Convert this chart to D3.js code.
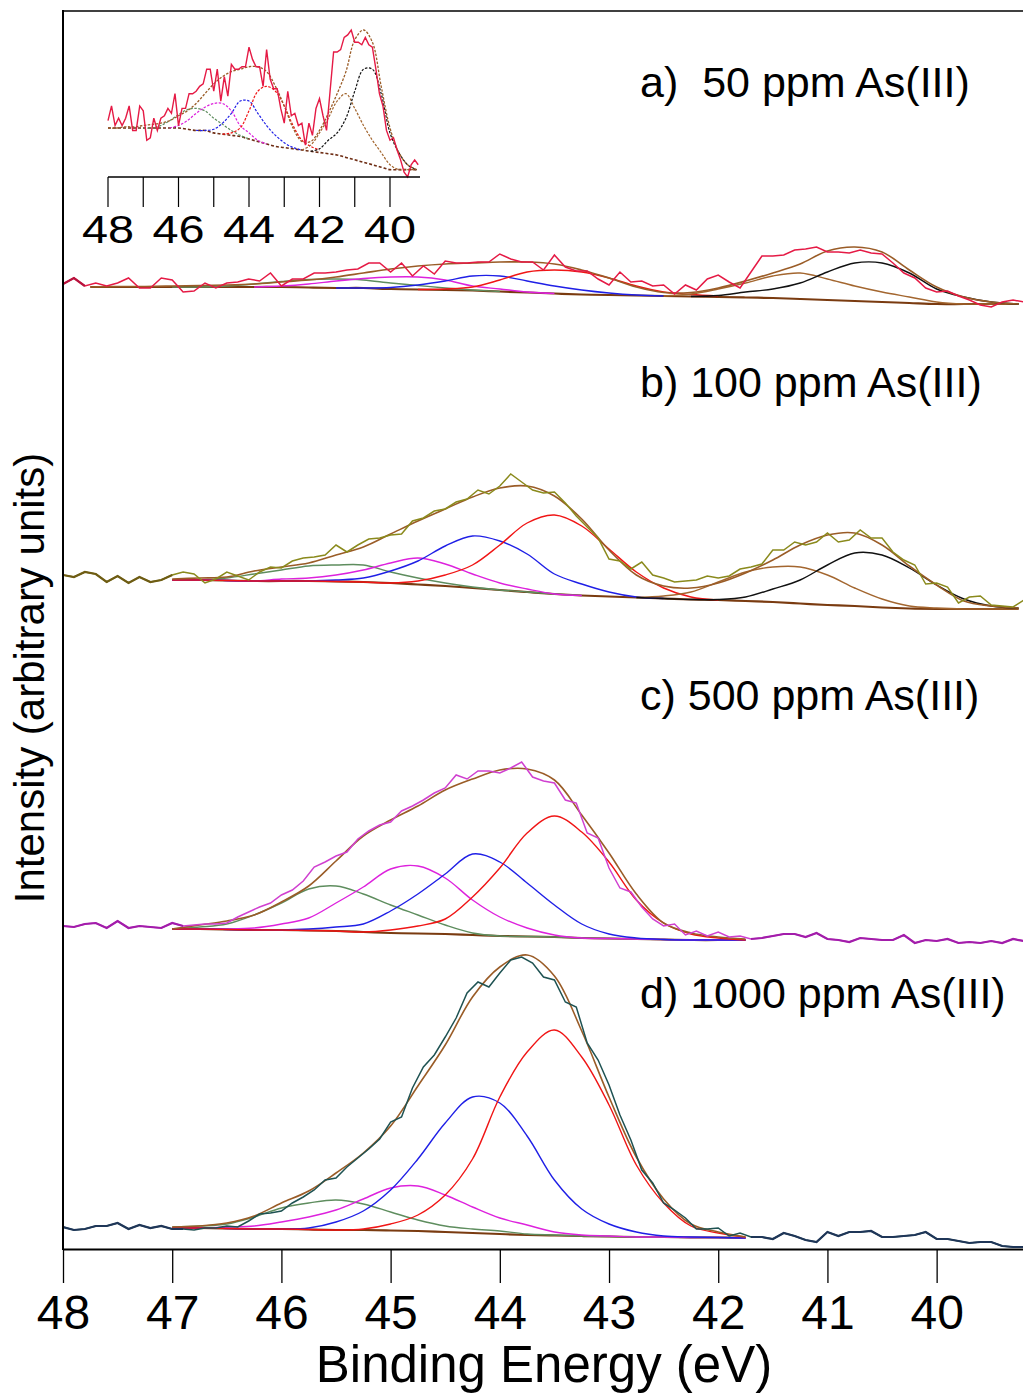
<!DOCTYPE html>
<html>
<head>
<meta charset="utf-8">
<script src="https://cdn.jsdelivr.net/npm/d3@7"></script>
<style>
  body { margin: 0; background: #fff; }
  svg { display: block; }
  text { font-family: "Liberation Sans", Arial, sans-serif; fill: #000; }
</style>
</head>
<body>
<svg id="xps" width="1023" height="1395"></svg>
<script>
// ---- data (intensity in arbitrary units, relative to each spectrum's own level) ----
var xTicks = [48, 47, 46, 45, 44, 43, 42, 41, 40];
var insetLabels = [48, 46, 44, 42, 40];
var panelLabels = ["a)  50 ppm As(III)", "b) 100 ppm As(III)", "c) 500 ppm As(III)", "d) 1000 ppm As(III)"];
var panelOffset = [962, 671, 324, 20];

// measured spectra, 48.0 -> 39.2 eV every 0.1 eV
var aRaw = [3,9,1,4,1,4,9,-1,-1,9, 7,-5,-4,4,-1,4,5,8,6,14, 1,8,8,14,14,15,17,18,24,24,
  15,24,11,21,13,26,24,24,25,25, 33,28,25,25,17,32,20,16,16,8, 2,15,5,6,1,2,-7,2,-3,8,
  12,5,-1,15,31,31,32,37,38,40, 35,35,34,37,34,33,24,14,9,-1, -5,-4,-9,-13,-18,-20,-15,-13,-15];
var bRaw = [3,1,6,4,-4,2,-5,1,-4,-2, 3,6,4,-5,-1,6,2,-2,6,11, 10,17,20,21,23,33,26,33,39,40,
  43,44,57,60,67,69,76,79,88,84, 92,104,96,88,85,86,75,62,51,40, 19,17,9,16,3,0,-4,-3,-2,2,
  0,2,9,11,14,28,28,36,33,36, 45,36,38,48,40,40,26,18,13,-6, -5,-9,-25,-19,-18,-27,-28,-29,-22];
var cRaw = [-1,-2,1,2,-3,4,-3,-1,-2,-3, 2,-1,0,1,1,2,8,13,18,22, 30,35,44,58,63,69,73,86,94,100,
  103,114,119,125,132,137,150,146,154,154, 152,157,163,148,144,142,125,122,92,87, 57,37,33,18,6,-1,1,-10,-6,-11,
  -7,-12,-11,-14,-13,-11,-9,-9,-12,-8, -14,-15,-17,-13,-14,-15,-15,-10,-18,-15, -16,-14,-18,-17,-18,-16,-18,-14,-16];
var dRaw = [2,-1,0,3,3,6,0,4,1,3, 0,0,-1,1,1,3,2,8,15,16, 18,26,32,39,49,51,62,71,80,90,
  107,112,141,162,174,192,211,236,247,242, 256,269,272,266,252,249,227,222,186,169, 144,114,89,59,46,26,19,11,0,0,
  1,-7,-4,-8,-8,-10,-4,-7,-11,-13, -3,-7,-3,-3,-2,-8,-8,-7,-6,-3, -10,-10,-12,-14,-13,-13,-17,-18,-18];

// fitted curves, every 0.25 eV from the start energy given with each
var aBg    = [0,0,0, 0,0,0,0,0,-0.5,-1,-1,-2,-2.5,-3,-3.5,-4.5,-5.5,-6.5,-7.5,-8,-8.5,-9,-9.5,-10,-10.5,-11,-12,-13,-14,-15,-16,-17,-17,-17,-17];
var aEnv   = [0,0.5,0.5, 1,1.5,2,3,5,7,10,14,18,21,23,24,25,25,23,17,9,0,-5.5,-5.5,-1,6,14,23,36,40,35,17,0,-10,-15,-17];
var aGreen = [0,0,1,3,5.5,7.5,8,7,4,1.5,-1,-3,-4.5];
var aMag   = [0,1,3,6,8.5,10,10,7,1,-2,-5,-6.5];
var aBlue  = [-1,-1,-0.5,2,6,11,11,6,1,-3,-6,-8,-9];
var aRed   = [-2.5,-2,0,7,15,17,15,9,1,-5,-7.5,-9];
var aBlack = [-9.5,-8.5,-5,-2,4,15,24,24,14,-2,-10,-15,-17];
var aDoub  = [-9,-7,-2,4,11,14,8,1,-5,-10,-15,-17,-17,-17];

var bBg    = [-2,-2,-2.5,-3,-3,-3,-3.5,-4,-5,-6.5,-8,-10,-12,-14,-16,-17.5,-18.5,-19.5,-20.5,-21.5,-22,-23,-24,-25.5,-27,-28,-29.5,-30.5,-31,-31,-31,-31];
var bEnv   = [-1,0,1,7,11,15,23,31,44,57,69,81,90,92,82,59,28,3,-8,-10,-5,5,18,33,43,45,33,12,-7,-23,-28,-30];
var bGreen = [-2,-2,0,4,8,12,13,13,6,0,-5,-9,-12,-14,-16,-17.5];
var bMag   = [-2,-2,-2.5,-3,-1,0,3,8,15,20,14,4,-5,-11,-16,-17.5];
var bBlue  = [-2,-2,-2.5,-3,-3,-3,-2,0,7,17,32,42,37,24,4,-6,-14,-19,-20.5];
var bRed   = [-2,-2,-2.5,-3,-3,-3,-3.5,-4,-5,-3,3,13,33,55,63,52,29,6,-10,-19,-22];
var bBlack = [-19.5,-20.5,-21.5,-21.5,-19,-11,-2,13,25,23,10,-7,-21,-28,-30];
var bDoub  = [-19.5,-18,-14,-4,6,11,11,3,-10,-21,-28,-30,-31,-31,-31];

var cBg    = [-4,-4,-4.5,-5,-5,-5.5,-6,-7,-8,-8.5,-9,-10,-11,-11.5,-12,-13,-13.5,-14,-14.5,-15,-15,-15];
var cEnv   = [-4,0,4,10,23,39,64,89,105,119,135,146,155,156,145,110,72,31,2,-8,-12,-14];
var cGreen = [-4,-2,1,10,22,36,39,31,20,10,0,-8,-11,-11.5,-12,-13,-13.5,-14,-14.5,-15,-15,-15];
var cMag   = [-4,-4,-4,-3,1,7,22,38,56,59,47,25,8,-3,-10,-13,-13.5,-14,-14.5,-15,-15,-15];
var cBlue  = [-4,-4,-4.5,-5,-5,-4,-2,1,14,31,51,71,63,42,20,1,-9,-13,-14.5,-15,-15,-15];
var cRed   = [-4,-4,-4.5,-5,-5,-5.5,-6,-7,-5,-1,6,28,57,92,109,93,63,25,2,-9,-13,-15];

var dBg    = [1,1,0.5,0,0,-0.5,-1,-1,-1.5,-2,-3,-4,-5,-6,-6.5,-7,-7.5,-8,-8,-8.5,-8.5,-9];
var dEnv   = [2,3,6,13,26,38,56,76,103,143,184,232,262,274,253,198,132,72,30,5,-3,-8];
var dGreen = [2,3,5,12,21,26,29,25,17,9,3,0,-2,-5,-6,-7,-7.5,-8,-8,-8.5,-8.5,-9];
var dMag   = [1,1,2,3,7,12,19,30,41,43,34,22,11,4,-3,-6,-7,-8,-8,-8.5,-8.5,-9];
var dBlue  = [1,1,0.5,0,0,1,7,18,39,70,106,132,126,93,49,20,5,-3,-7,-8,-8.5,-9];
var dRed   = [1,1,0.5,0,0,-0.5,-1,0,5,14,34,70,132,177,199,172,124,64,26,3,-4,-8];

// ---- drawing ----
var col = {
  bg: "#7a3b10", env: "#9a5c27", doub: "#a3662f", green: "#5e8d5e", mag: "#dd22dd",
  blue: "#1f1fe6", red: "#f01515", black: "#111111"
};

var svg = d3.select("#xps");
var x = d3.scaleLinear().domain([48, 39.2]).range([63, 1024]);
var y = d3.scaleLinear().domain([0, 1238]).range([1249, 11]);

var rawE = d3.range(89).map(function(i) { return +(48 - i * 0.1).toFixed(2); });

function series(start, vals) {
  return vals.map(function(v, i) { return [start - i * 0.25, v]; });
}

var panels = [
  { raw: aRaw, rawCol: "#e51a45", edgeCol: "#b8123d", edges: [[48, 47.75]],
    bg: series(47.75, aBg), env: series(47.75, aEnv),
    comps: [[series(47.0, aGreen), col.green], [series(46.25, aMag), col.mag], [series(45.5, aBlue), col.blue],
            [series(44.75, aRed), col.red], [series(42.5, aDoub), col.doub], [series(42.25, aBlack), col.black]],
    ly: 97 },
  { raw: bRaw, rawCol: "#8a8a1c", edgeCol: "#6e5c14", edges: [[48, 47.0]],
    bg: series(47.0, bBg), env: series(47.0, bEnv),
    comps: [[series(47.0, bGreen), col.green], [series(47.0, bMag), col.mag], [series(47.0, bBlue), col.blue],
            [series(47.0, bRed), col.red], [series(42.75, bDoub), col.doub], [series(42.75, bBlack), col.black]],
    ly: 397 },
  { raw: cRaw, rawCol: "#d040d0", edgeCol: "#a21daa", edges: [[48, 46.9], [41.7, 39.2]],
    bg: series(47.0, cBg), env: series(47.0, cEnv),
    comps: [[series(47.0, cGreen), col.green], [series(47.0, cMag), col.mag], [series(47.0, cBlue), col.blue],
            [series(47.0, cRed), col.red]],
    ly: 710 },
  { raw: dRaw, rawCol: "#1e5252", edgeCol: "#1f3658", edges: [[48, 46.9], [41.7, 39.2]],
    bg: series(47.0, dBg), env: series(47.0, dEnv),
    comps: [[series(47.0, dGreen), col.green], [series(47.0, dMag), col.mag], [series(47.0, dBlue), col.blue],
            [series(47.0, dRed), col.red]],
    ly: 1008 }
];

svg.append("clipPath").attr("id", "plotclip")
  .append("rect").attr("x", 63).attr("y", 11).attr("width", 960).attr("height", 1238);

var plot = svg.append("g").attr("clip-path", "url(#plotclip)");

panels.forEach(function(p, k) {
  var off = panelOffset[k];
  var smooth = d3.line()
    .x(function(d) { return x(d[0]); })
    .y(function(d) { return y(off + d[1]); })
    .curve(d3.curveCatmullRom.alpha(0.5));
  var rough = d3.line()
    .x(function(d) { return x(d[0]); })
    .y(function(d) { return y(off + d[1]); });

  var g = plot.append("g");
  g.append("path").attr("d", smooth(p.bg)).attr("fill", "none")
    .attr("stroke", col.bg).attr("stroke-width", 2.2);
  p.comps.forEach(function(c) {
    g.append("path").attr("d", smooth(c[0])).attr("fill", "none")
      .attr("stroke", c[1]).attr("stroke-width", 1.4);
  });
  g.append("path").attr("d", smooth(p.env)).attr("fill", "none")
    .attr("stroke", col.env).attr("stroke-width", 1.6);

  var pts = p.raw.map(function(v, i) { return [rawE[i], v]; });
  g.append("path").attr("d", rough(pts)).attr("fill", "none")
    .attr("stroke", p.rawCol).attr("stroke-width", 1.5);
  p.edges.forEach(function(r) {
    var seg = pts.filter(function(d) { return d[0] <= r[0] + 1e-6 && d[0] >= r[1] - 1e-6; });
    g.append("path").attr("d", rough(seg)).attr("fill", "none")
      .attr("stroke", p.edgeCol).attr("stroke-width", 2.2);
  });

  svg.append("text")
    .attr("x", 640).attr("y", p.ly)
    .style("font-size", "43px").style("white-space", "pre")
    .text(panelLabels[k]);
});

// ---- inset: spectrum a) enlarged ----
var xi = d3.scaleLinear().domain([48, 40]).range([108, 390]);
var yi = d3.scaleLinear().domain([0, 40]).range([128, 30]);
var pa = panels[0];
var ins = svg.append("g");
var iSmooth = d3.line().x(function(d) { return xi(d[0]); }).y(function(d) { return yi(d[1]); })
  .curve(d3.curveCatmullRom.alpha(0.5));
var iRough = d3.line().x(function(d) { return xi(d[0]); }).y(function(d) { return yi(d[1]); });

ins.append("path").attr("d", iSmooth(series(48, [0].concat(aBg)))).attr("fill", "none")
  .attr("stroke", "#6e2d14").attr("stroke-width", 1.6).attr("stroke-dasharray", "3,2");
pa.comps.forEach(function(c) {
  ins.append("path").attr("d", iSmooth(c[0])).attr("fill", "none")
    .attr("stroke", c[1]).attr("stroke-width", 1.2).attr("stroke-dasharray", "2.5,1.5");
});
ins.append("path").attr("d", iSmooth(series(48, [0].concat(aEnv)))).attr("fill", "none")
  .attr("stroke", col.env).attr("stroke-width", 1.3).attr("stroke-dasharray", "2.5,1.5");
ins.append("path").attr("d", iRough(aRaw.map(function(v, i) { return [rawE[i], v]; })))
  .attr("fill", "none").attr("stroke", "#e51a45").attr("stroke-width", 1.4);

ins.append("line").attr("x1", 108).attr("x2", 420).attr("y1", 177).attr("y2", 177)
  .attr("stroke", "#000").attr("stroke-width", 1.5);
ins.selectAll(".itick").data(xTicks).enter().append("line")
  .attr("class", "itick")
  .attr("x1", function(d) { return xi(d); }).attr("x2", function(d) { return xi(d); })
  .attr("y1", 177).attr("y2", 207)
  .attr("stroke", "#000").attr("stroke-width", 1.2);
ins.selectAll(".ilab").data(insetLabels).enter().append("text")
  .attr("class", "ilab")
  .attr("transform", function(d) { return "translate(" + xi(d) + ",243) scale(1.2,1)"; })
  .attr("text-anchor", "middle")
  .style("font-size", "39px")
  .text(function(d) { return d; });

// ---- axes and frame ----
svg.append("line").attr("x1", 63).attr("x2", 1023).attr("y1", 11).attr("y2", 11)
  .attr("stroke", "#000").attr("stroke-width", 1.5);
svg.append("line").attr("x1", 63).attr("x2", 63).attr("y1", 10).attr("y2", 1250)
  .attr("stroke", "#000").attr("stroke-width", 2);

var xAxis = svg.append("g")
  .attr("transform", "translate(0,1249)")
  .call(d3.axisBottom(x).tickValues(xTicks).tickSize(34).tickPadding(10).tickSizeOuter(0));
xAxis.select(".domain").attr("stroke-width", 2);
xAxis.selectAll(".tick line").attr("stroke-width", 1.3);
xAxis.selectAll(".tick text")
  .attr("dy", 0).attr("y", 80)
  .style("font-size", "48px")
  .style("font-family", "'Liberation Sans', Arial, sans-serif");

svg.append("text")
  .attr("x", 544).attr("y", 1382)
  .attr("text-anchor", "middle")
  .style("font-size", "51px")
  .text("Binding Energy (eV)");

svg.append("text")
  .attr("transform", "translate(44,678) rotate(-90)")
  .attr("text-anchor", "middle")
  .style("font-size", "42px")
  .text("Intensity (arbitrary units)");
</script>
</body>
</html>
